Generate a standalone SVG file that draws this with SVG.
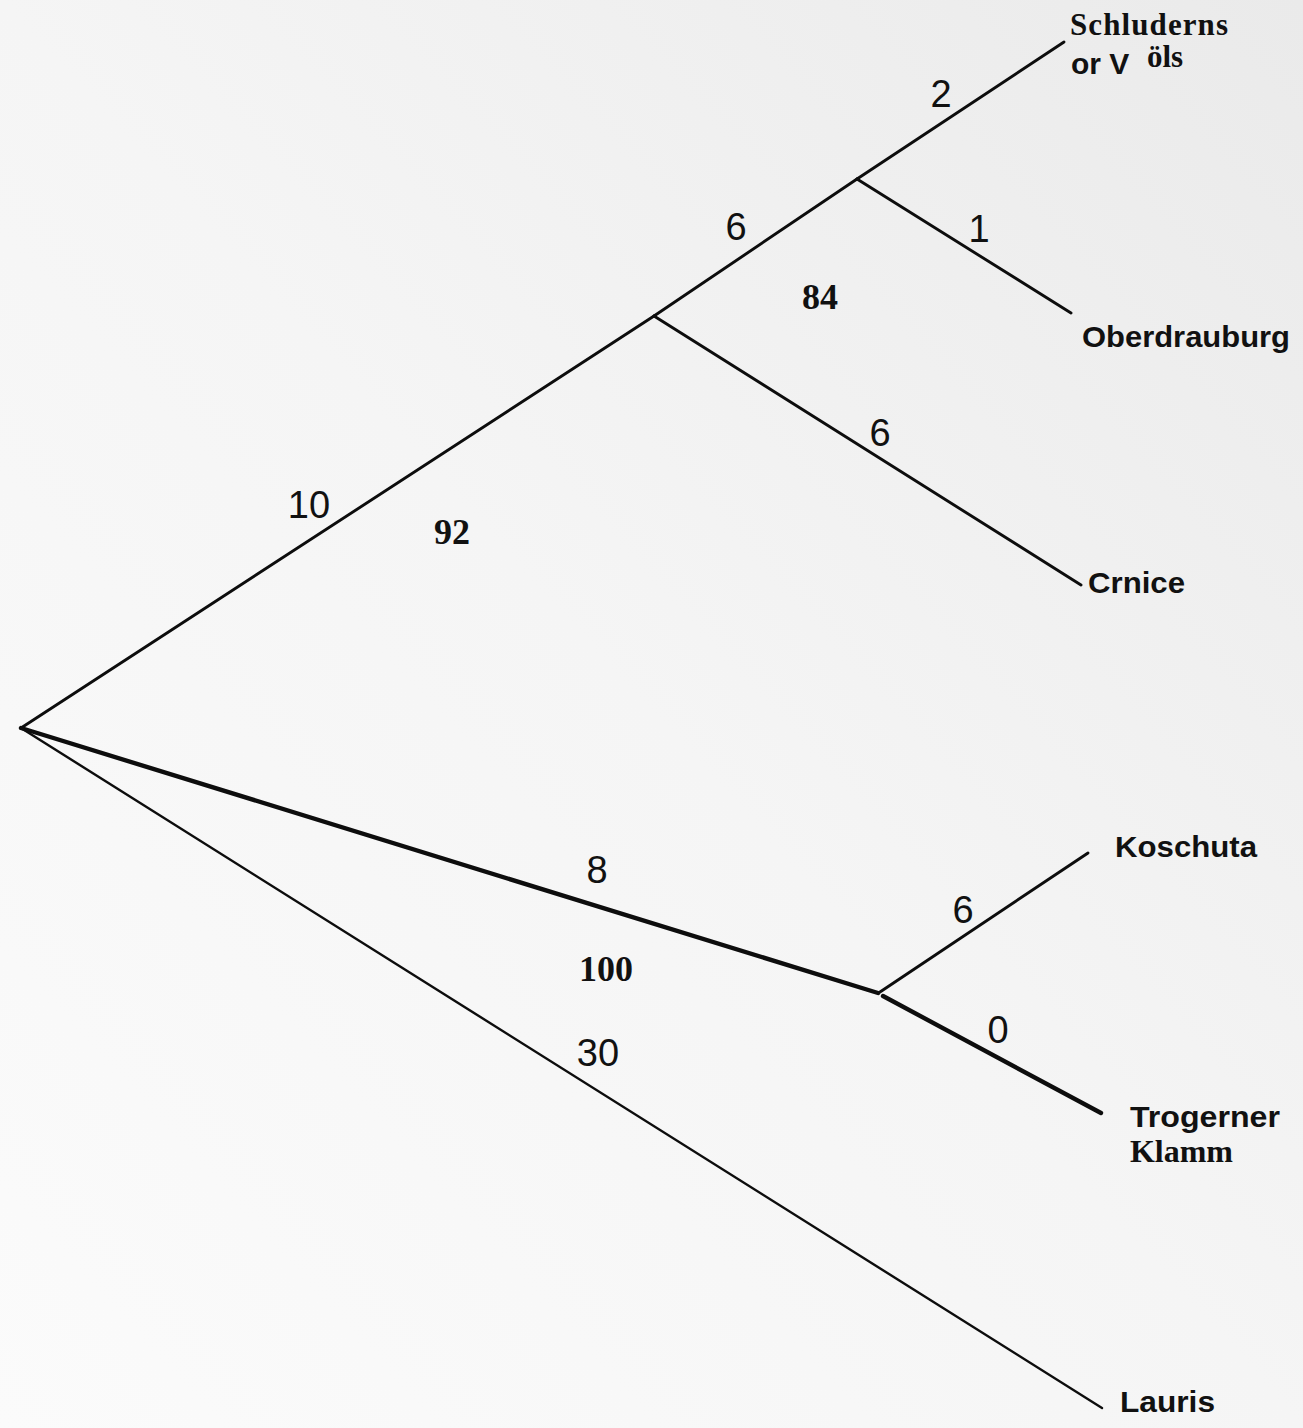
<svg xmlns="http://www.w3.org/2000/svg" width="1303" height="1428" viewBox="0 0 1303 1428">
  <defs>
    <linearGradient id="paper" x1="0" y1="1" x2="1" y2="0">
      <stop offset="0" stop-color="#fbfbfb"/>
      <stop offset="0.5" stop-color="#f5f5f5"/>
      <stop offset="1" stop-color="#eaeaea"/>
    </linearGradient>
    <style>
      .br { stroke: #0d0d0d; stroke-width: 2.9; fill: none; stroke-linecap: round; }
      .br-thin { stroke-width: 2.4; }
      .br-thick { stroke-width: 4.4; }
      .len { font-family: "Liberation Sans", Arial, sans-serif; font-size: 38px; fill: #111; text-anchor: middle; }
      .boot { font-family: "Liberation Serif", "Times New Roman", serif; font-weight: bold; font-size: 36px; fill: #111; text-anchor: middle; }
      .taxon { font-family: "Liberation Sans", Arial, sans-serif; font-weight: bold; font-size: 30px; fill: #111; }
      .taxon-serif { font-family: "Liberation Serif", "Times New Roman", serif; font-weight: bold; font-size: 31px; fill: #111; }
    </style>
  </defs>

  <rect width="1303" height="1428" fill="url(#paper)"/>

  <!-- branches of the tree -->
  <g id="connectors">
    <line class="br" x1="21" y1="728" x2="654" y2="316"/>
    <line class="br" x1="654" y1="316" x2="857" y2="179"/>
    <line class="br" x1="857" y1="179" x2="1064" y2="42"/>
    <line class="br" x1="857" y1="179" x2="1071" y2="313"/>
    <line class="br" x1="654" y1="316" x2="1081" y2="585"/>
    <line class="br br-thick" x1="21" y1="728" x2="878" y2="993"/>
    <line class="br" x1="880" y1="992" x2="1088" y2="853"/>
    <line class="br br-thick" x1="883" y1="996" x2="1101" y2="1113"/>
    <line class="br br-thin" x1="21" y1="728" x2="1102" y2="1408"/>
  </g>

  <!-- branch lengths -->
  <g id="branch-lengths">
    <text class="len" x="941" y="107">2</text>
    <text class="len" x="979" y="242">1</text>
    <text class="len" x="736" y="240">6</text>
    <text class="len" x="880" y="446">6</text>
    <text class="len" x="309" y="518">10</text>
    <text class="len" x="597" y="883">8</text>
    <text class="len" x="963" y="923">6</text>
    <text class="len" x="998" y="1043">0</text>
    <text class="len" x="598" y="1066">30</text>
  </g>

  <!-- bootstrap support -->
  <g id="bootstrap">
    <text class="boot" x="820" y="309">84</text>
    <text class="boot" x="452" y="544">92</text>
    <text class="boot" x="606" y="981">100</text>
  </g>

  <!-- terminal taxa -->
  <g id="taxon-schluderns">
    <text class="taxon-serif" x="1070" y="35" textLength="158" lengthAdjust="spacing">Schluderns</text>
    <text class="taxon" x="1071" y="74" font-size="27">or V</text>
    <text class="taxon-serif" x="1147" y="67" font-size="24">öls</text>
  </g>
  <g id="taxon-oberdrauburg">
    <text class="taxon" x="1082" y="347" textLength="208" lengthAdjust="spacingAndGlyphs">Oberdrauburg</text>
  </g>
  <g id="taxon-crnice">
    <text class="taxon" x="1088" y="593" textLength="97" lengthAdjust="spacingAndGlyphs">Crnice</text>
  </g>
  <g id="taxon-koschuta">
    <text class="taxon" x="1115" y="857" textLength="142" lengthAdjust="spacingAndGlyphs">Koschuta</text>
  </g>
  <g id="taxon-trogerner">
    <text class="taxon" x="1130" y="1127" textLength="150" lengthAdjust="spacingAndGlyphs">Trogerner</text>
    <text class="taxon-serif" x="1130" y="1162" textLength="103" lengthAdjust="spacingAndGlyphs">Klamm</text>
  </g>
  <g id="taxon-lauris">
    <text class="taxon" x="1120" y="1412" textLength="95" lengthAdjust="spacingAndGlyphs">Lauris</text>
  </g>
</svg>
